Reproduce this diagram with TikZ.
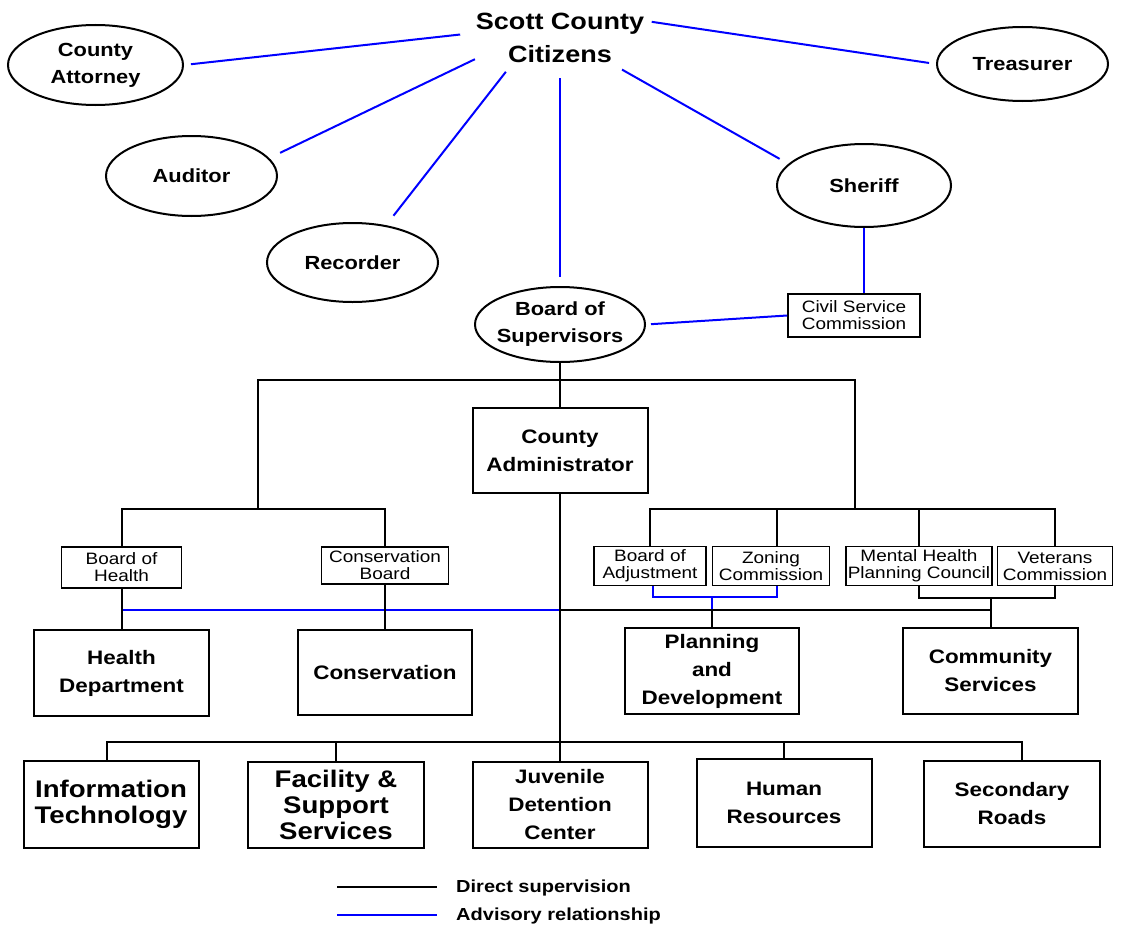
\documentclass[tikz,border=0pt]{standalone}
\usepackage{fontspec}
\setmainfont{Liberation Sans}[FakeStretch=1.15]
\usetikzlibrary{shapes.geometric}
\begin{document}
\begin{tikzpicture}[x=1pt,y=-1pt,
  ell/.style={ellipse, draw, line width=2pt, fill=white, inner ysep=0pt, inner xsep=-20pt, align=center, font=\bfseries\fontsize{19}{27}\selectfont},
  box/.style={rectangle, draw, line width=2pt, fill=white, inner sep=0pt, align=center, font=\bfseries\fontsize{19.5}{28}\selectfont},
  bigbox/.style={box, font=\bfseries\fontsize{24}{26}\selectfont},
  sbox/.style={rectangle, draw, line width=1.8pt, fill=white, inner sep=0pt, align=center, font=\fontsize{16.5}{17}\selectfont},
  dir/.style={line width=2pt, black, line cap=rect},
  adv/.style={line width=2pt, blue},
  legend/.style={inner sep=0pt, font=\bfseries\fontsize{17.4}{20}\selectfont}
]
\useasboundingbox (0,0) rectangle (1126,934);

% ---------- nodes ----------
\node[ellipse, inner sep=0pt, inner xsep=-30pt, minimum width=200pt, minimum height=80pt, align=center, font=\bfseries\fontsize{23.5}{33}\selectfont] (cit) at (560,38) {Scott County\\Citizens};
\node[ell, minimum width=175pt, minimum height=80pt] (att) at (95.5,65) {County\\Attorney};
\node[ell, minimum width=171pt, minimum height=74pt] (tre) at (1022.5,64) {Treasurer};
\node[ell, minimum width=171pt, minimum height=80pt] (aud) at (191.5,176) {Auditor};
\node[ell, minimum width=171pt, minimum height=79pt] (rec) at (352.5,262.5) {Recorder};
\node[ell, minimum width=174pt, minimum height=83pt] (sher) at (864,185.5) {Sheriff};
\node[ell, minimum width=170pt, minimum height=75pt] (bos) at (560,324.5) {Board of\\Supervisors};
\node[sbox, minimum width=132pt, minimum height=43pt] (csc) at (854,315.5) {Civil Service\\Commission};

\node[box, minimum width=175pt, minimum height=85pt] (admin) at (560,450.5) {County\\Administrator};

\node[sbox, minimum width=120pt, minimum height=41pt] (boh) at (121.5,567.5) {Board of\\Health};
\node[sbox, minimum width=127pt, minimum height=37pt] (conb) at (385,565.5) {Conservation\\Board};
\node[sbox, minimum width=112pt, minimum height=39pt] (boa) at (650,566) {Board of\\Adjustment};
\node[sbox, minimum width=117pt, minimum height=39pt] (zon) at (771,566) {Zoning\\Commission};
\node[sbox, minimum width=146pt, minimum height=39pt] (mh) at (919,566) {Mental Health\\Planning Council};
\node[sbox, minimum width=115pt, minimum height=39pt] (vet) at (1055,566) {Veterans\\Commission};

\node[box, minimum width=175pt, minimum height=86pt] (hd) at (121.5,673) {Health\\Department};
\node[box, minimum width=174pt, minimum height=85pt] (cons) at (385,672.5) {Conservation};
\node[box, minimum width=174pt, minimum height=86pt] (pd) at (712,671) {Planning\\and\\Development};
\node[box, minimum width=175pt, minimum height=86pt] (cs) at (990.5,671) {Community\\Services};

\node[bigbox, minimum width=175pt, minimum height=87pt] (it) at (111,804.5) {Information\\Technology};
\node[bigbox, minimum width=176pt, minimum height=86pt] (fac) at (336,805) {Facility \&\\Support\\Services};
\node[box, minimum width=175pt, minimum height=86pt] (juv) at (560,805) {Juvenile\\Detention\\Center};
\node[box, minimum width=175pt, minimum height=88pt] (hr) at (784,803) {Human\\Resources};
\node[box, minimum width=176pt, minimum height=86pt] (sr) at (1012,804) {Secondary\\Roads};

% ---------- junction coordinates ----------
\coordinate (L) at (258,380);
\coordinate (R) at (855,380);
\coordinate (LB) at (258,509);
\coordinate (RB) at (855,509);
\coordinate (HM) at (560,610);
\coordinate (BK) at (712,597);
\coordinate (CB) at (990.5,598);
\coordinate (BH) at (560,742);

% ---------- advisory (blue) ----------
\draw[adv, shorten >=7pt] (cit.178) -- (att.0);
\draw[adv, shorten >=7pt] (cit.10) -- (tre.180);
\draw[adv, shorten >=12pt] (cit.194) -- (aud.13);
\draw[adv, shorten >=12pt] (cit.212) -- (rec.48);
\draw[adv, shorten >=9pt] (cit.south) -- (bos.north);
\draw[adv, shorten >=10pt] (cit.333) -- (sher.164);
\draw[adv] (sher.south) -- (sher.south |- csc.north);
\draw[adv, shorten >=5pt] (csc.west) -- (bos.east);
\draw[adv] ([xshift=3pt]boa.south) |- (BK) -| ([xshift=6pt]zon.south);
\draw[adv] (BK) -- (BK |- HM);
\draw[adv] (boh.south |- HM) -- (HM);

% ---------- direct supervision (black) ----------
\draw[dir] (bos.south) -- (admin.north);
\draw[dir] (L) -- (R);
\draw[dir] (L) -- (LB);
\draw[dir] (R) -- (RB);
\draw[dir] (boh.north) |- (LB) -| (conb.north);
\draw[dir] (boa.north) |- (RB) -| (vet.north);
\draw[dir] ([xshift=6pt]zon.north) -- ([xshift=6pt]zon.north |- RB);
\draw[dir] (mh.north) -- (mh.north |- RB);
\draw[dir] (boh.south) -- (hd.north);
\draw[dir] (conb.south) -- (cons.north);
\draw[dir] (admin.south) -- (juv.north);
\draw[dir] (HM) -| (cs.north);
\draw[dir] (pd.north) -- (pd.north |- HM);
\draw[dir] (mh.south) |- (CB) -| (vet.south);
\draw[dir] (CB) -- (CB |- HM);
\draw[dir] ([xshift=-4pt]it.north) |- (BH) -| ([xshift=10pt]sr.north);
\draw[dir] (fac.north) -- (fac.north |- BH);
\draw[dir] (hr.north) -- (hr.north |- BH);

% ---------- legend ----------
\coordinate (la) at (337,887);
\coordinate (lb) at (437,887);
\coordinate (lc) at (337,915);
\coordinate (ld) at (437,915);
\draw[dir, line cap=butt] (la) -- (lb);
\draw[adv] (lc) -- (ld);
\node[legend, anchor=west] (lt1) at (456,888) {Direct supervision};
\node[legend, anchor=west] (lt2) at (456,916) {Advisory relationship};
\end{tikzpicture}
\end{document}
